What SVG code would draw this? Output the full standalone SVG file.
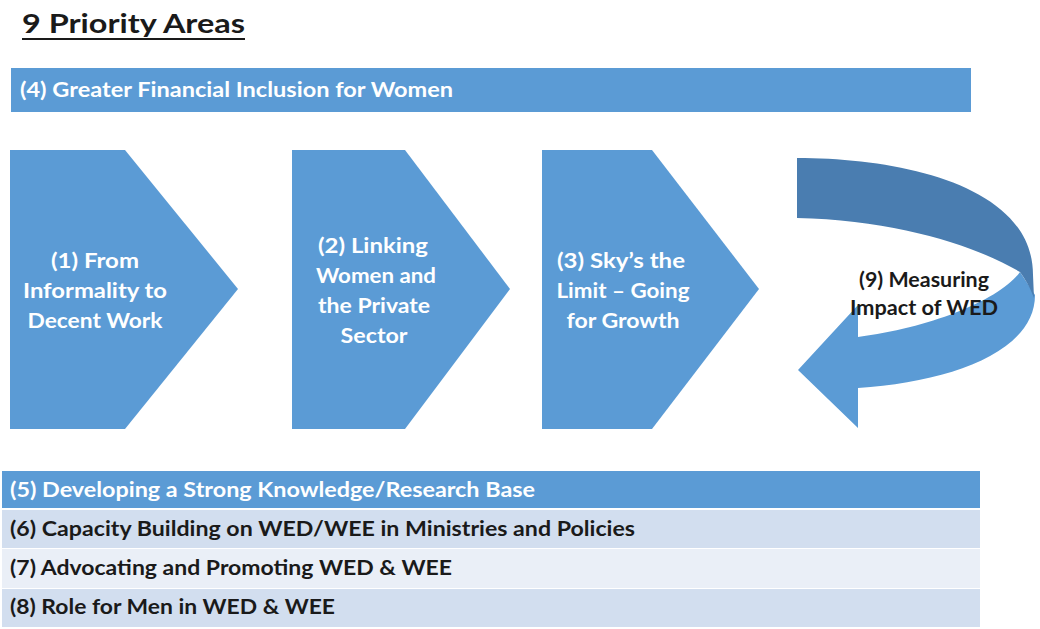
<svg xmlns="http://www.w3.org/2000/svg" width="1040" height="629" viewBox="0 0 1040 629">
  <style>
    .t { font-family: Lato, "Open Sans", "Liberation Sans", sans-serif; font-weight: bold; font-size: 21px; }
    .w { fill: #ffffff; }
    .k { fill: #1a1a1a; }
    .mid { text-anchor: middle; }
    .blue { fill: #5b9bd5; }
    .pale { fill: #d2deef; }
    .paler { fill: #eaeff7; }
  </style>
  <rect width="1040" height="629" fill="#ffffff"/>

  <!-- heading -->
  <g id="title">
    <text x="22" y="33" class="t k" style="font-size:26px" textLength="223" lengthAdjust="spacingAndGlyphs">9 Priority Areas</text>
    <rect x="22" y="38" width="223" height="2" fill="#1a1a1a"/>
  </g>

  <!-- top band -->
  <g id="area4">
    <rect x="11" y="68" width="960" height="44" class="blue"/>
    <text x="20" y="97" class="t w" textLength="433" lengthAdjust="spacingAndGlyphs">(4) Greater Financial Inclusion for Women</text>
  </g>

  <!-- chevron steps -->
  <g id="area1">
    <polygon points="10,150 125,150 238,289 125,429 10,429" class="blue"/>
    <text class="t w mid" x="95" y="268" textLength="88" lengthAdjust="spacingAndGlyphs">(1) From</text>
    <text class="t w mid" x="95" y="298" textLength="144" lengthAdjust="spacingAndGlyphs">Informality to</text>
    <text class="t w mid" x="95" y="328" textLength="135" lengthAdjust="spacingAndGlyphs">Decent Work</text>
  </g>
  <g id="area2">
    <polygon points="292,150 405,150 510,289 405,429 292,429" class="blue"/>
    <text class="t w mid" x="373" y="253" textLength="110" lengthAdjust="spacingAndGlyphs">(2) Linking</text>
    <text class="t w mid" x="376" y="283" textLength="120" lengthAdjust="spacingAndGlyphs">Women and</text>
    <text class="t w mid" x="374" y="313" textLength="112" lengthAdjust="spacingAndGlyphs">the Private</text>
    <text class="t w mid" x="374" y="343" textLength="67" lengthAdjust="spacingAndGlyphs">Sector</text>
  </g>
  <g id="area3">
    <polygon points="542,150 652,150 759,289 652,429 542,429" class="blue"/>
    <text class="t w mid" x="621" y="268" textLength="128" lengthAdjust="spacingAndGlyphs">(3) Sky’s the</text>
    <text class="t w mid" x="623" y="298" textLength="133" lengthAdjust="spacingAndGlyphs">Limit – Going</text>
    <text class="t w mid" x="623" y="328" textLength="113" lengthAdjust="spacingAndGlyphs">for Growth</text>
  </g>

  <!-- circular return arrow: light lower sweep with head, darker upper sweep -->
  <g id="area9">
    <path d="M1020,272 C1000,300 930,328 858,337 L858,305 L798,370 L858,428 L858,388 C950,382 1035,352 1035,295 Z" class="blue"/>
    <path d="M797,158 C900,158 1033,185 1033,275 L1034,298 C1030,287 1025,279 1020,272 C980,248 900,220 797,218 Z" fill="#4a7db0"/>
    <text class="t k mid" x="924" y="287" textLength="130" lengthAdjust="spacingAndGlyphs">(9) Measuring</text>
    <text class="t k mid" x="924" y="315" textLength="148" lengthAdjust="spacingAndGlyphs">Impact of WED</text>
  </g>

  <!-- bottom rows -->
  <g id="area5">
    <rect x="2" y="471" width="978" height="37" class="blue"/>
    <text x="10" y="497" class="t w" textLength="525" lengthAdjust="spacingAndGlyphs">(5) Developing a Strong Knowledge/Research Base</text>
  </g>
  <g id="area6">
    <rect x="2" y="510" width="978" height="38" class="pale"/>
    <text x="10" y="536" class="t k" textLength="625" lengthAdjust="spacingAndGlyphs">(6) Capacity Building on WED/WEE in Ministries and Policies</text>
  </g>
  <g id="area7">
    <rect x="2" y="549" width="978" height="39" class="paler"/>
    <text x="10" y="575" class="t k" textLength="442" lengthAdjust="spacingAndGlyphs">(7) Advocating and Promoting WED &amp; WEE</text>
  </g>
  <g id="area8">
    <rect x="2" y="589" width="978" height="38" class="pale"/>
    <text x="10" y="614" class="t k" textLength="325" lengthAdjust="spacingAndGlyphs">(8) Role for Men in WED &amp; WEE</text>
  </g>
</svg>
